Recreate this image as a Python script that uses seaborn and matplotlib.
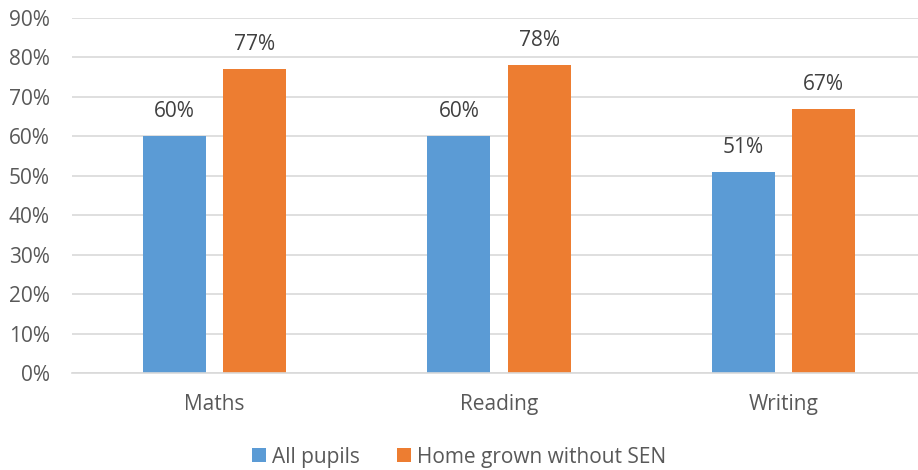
import matplotlib
matplotlib.use("Agg")
import matplotlib.pyplot as plt
import seaborn as sns
import pandas as pd
from matplotlib.patches import Patch

categories = ["Maths", "Reading", "Writing"]
series_names = ["All pupils", "Home grown without SEN"]
all_pupils = [60, 60, 51]
home_grown = [77, 78, 67]
y_ticks = [0, 10, 20, 30, 40, 50, 60, 70, 80, 90]
colors = ["#5B9BD5", "#ED7D31"]

df = pd.DataFrame({
    "Subject": categories * 2,
    "Series": [series_names[0]] * 3 + [series_names[1]] * 3,
    "Value": all_pupils + home_grown,
})

sns.set_theme(style="white")
plt.rcParams["font.family"] = ["Open Sans", "DejaVu Sans"]

W, H = 918, 470
fig = plt.figure(figsize=(W / 100, H / 100), dpi=100)
ax = fig.add_axes([72 / W, (H - 373) / H, 854 / W, 355 / H])

sns.barplot(data=df, x="Subject", y="Value", hue="Series", order=categories,
            hue_order=series_names, palette=colors, width=0.564, gap=0.216,
            saturation=1, linewidth=0, ax=ax, legend=False)

ax.set_ylim(0, 90)
ax.set_xlim(-0.5, 2.5)
ax.set_yticks(y_ticks)
ax.set_yticklabels([f"{v}%" for v in y_ticks])
ax.yaxis.grid(True, color="#D9D9D9", linewidth=1.2)
ax.set_axisbelow(True)
for s in ["top", "right", "left"]:
    ax.spines[s].set_visible(False)
ax.spines["bottom"].set_color("#D9D9D9")
ax.spines["bottom"].set_linewidth(1.2)
ax.tick_params(axis="both", length=0, labelsize=15, colors="#595959")
ax.tick_params(axis="x", pad=15)
ax.tick_params(axis="y", pad=16)
ax.set_xlabel("")
ax.set_ylabel("")

for cont in ax.containers:
    ax.bar_label(cont, labels=[f"{v:.0f}%" for v in cont.datavalues],
                 padding=10, fontsize=15, color="#404040")

handles = [Patch(facecolor=c, edgecolor="none") for c in colors]
fig.legend(handles, series_names, loc="center", bbox_to_anchor=(0.5, (H - 457) / H),
           ncol=2, frameon=False, fontsize=15, handlelength=0.65, handleheight=0.65,
           handletextpad=0.3, columnspacing=1.8, labelcolor="#595959")

fig.savefig("out.png", dpi=100)
